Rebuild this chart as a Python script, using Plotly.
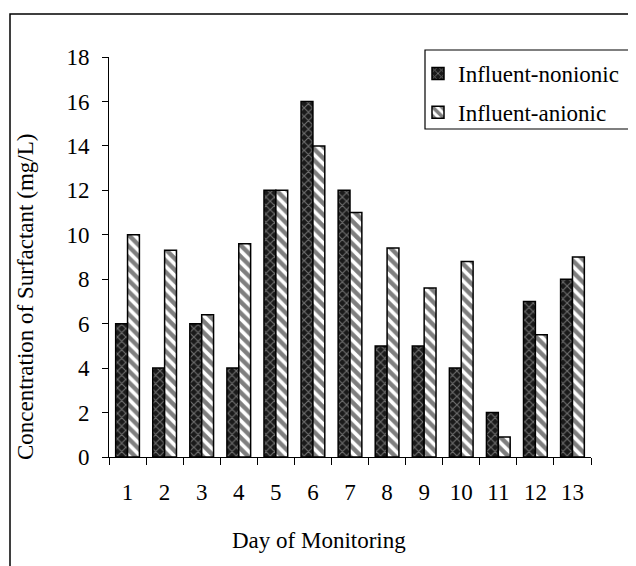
import plotly.graph_objects as go

days = [str(d) for d in range(1, 14)]
nonionic = [6, 4, 6, 4, 12, 16, 12, 5, 5, 4, 2, 7, 8]
anionic = [10, 9.3, 6.4, 9.6, 12, 14, 11, 9.4, 7.6, 8.8, 0.9, 5.5, 9.0]

FONT = "Liberation Serif"
OFF = 8  # page body margin
W, H = 628, 558
# plot area in window pixels
X0, X1, Y0, Y1 = 109, 591, 57, 457
L, T = X0 - OFF, Y0 - OFF
R = W - (X1 - OFF)
B = H - (Y1 - OFF)
PW, PH = X1 - X0, Y1 - Y0

def px(x):
    return (x - X0) / PW

def py(y):
    return (Y1 - y) / PH

fig = go.Figure()
fig.add_trace(go.Bar(
    x=days, y=nonionic, name="Influent-nonionic", legendgroup="a",
    marker=dict(color="#1a1a1a", line=dict(color="black", width=1.5),
                pattern=dict(shape="x", fgcolor="#c0c0c0", bgcolor="#1a1a1a",
                             size=6, solidity=0.35)),
))
fig.add_trace(go.Bar(
    x=days, y=anionic, name="Influent-anionic", legendgroup="b",
    marker=dict(color="white", line=dict(color="black", width=1.5),
                pattern=dict(shape="\\", fgcolor="black", bgcolor="white",
                             size=8, solidity=0.55)),
))

fig.update_layout(
    width=W, height=H,
    margin=dict(l=L, r=R, t=T, b=B),
    paper_bgcolor="white", plot_bgcolor="white",
    barmode="group", bargap=0.36, bargroupgap=0,
    font=dict(family=FONT, size=22, color="black"),
    showlegend=True,
    legend=dict(x=px(418), y=py(52), xanchor="left", yanchor="top",
                borderwidth=0, bgcolor="rgba(0,0,0,0)",
                font=dict(family=FONT, size=23), tracegroupgap=6,
                itemwidth=30),
    xaxis=dict(type="category", showline=True, linecolor="black", linewidth=1,
               ticks="outside", ticklen=7, tickcolor="black", tickson="boundaries",
               ticklabelstandoff=14,
               showgrid=False, tickfont=dict(family=FONT, size=23)),
    yaxis=dict(range=[0, 18], dtick=2, showline=True, linecolor="black", linewidth=1,
               ticks="outside", ticklen=6, tickcolor="black", showgrid=False,
               ticklabelstandoff=8,
               zeroline=False, tickfont=dict(family=FONT, size=23)),
    annotations=[
        dict(text="Day of Monitoring", xref="paper", yref="paper",
             x=px(319), y=py(540), showarrow=False, xanchor="center", yanchor="middle",
             font=dict(family=FONT, size=23)),
        dict(text="Concentration of Surfactant (mg/L)", xref="paper", yref="paper",
             x=px(25), y=py(297), showarrow=False, textangle=-90,
             xanchor="center", yanchor="middle", font=dict(family=FONT, size=23)),
    ],
    shapes=[
        dict(type="rect", xref="paper", yref="paper",
             x0=px(10), x1=px(680), y0=py(620), y1=py(14),
             line=dict(color="black", width=1.5), fillcolor="rgba(0,0,0,0)", layer="below"),
        dict(type="rect", xref="paper", yref="paper",
             x0=px(425), x1=px(680), y0=py(129), y1=py(50),
             line=dict(color="black", width=1.2), fillcolor="white", layer="below"),
    ],
)

fig.write_html("out.html")
